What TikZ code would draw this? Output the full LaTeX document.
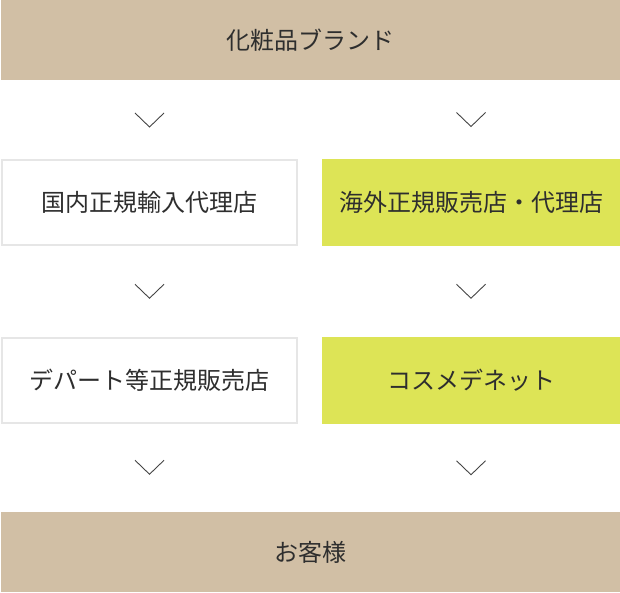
\documentclass[tikz,border=0pt]{standalone}
\usepackage{fontspec}
\usepackage{tikz}
\usetikzlibrary{calc}
\setmainfont{Noto Sans CJK JP}
\definecolor{tan}{HTML}{D1BFA5}
\definecolor{lime}{HTML}{DDE456}
\definecolor{frame}{HTML}{E6E6E6}
\definecolor{ink}{HTML}{2E2E2E}
\definecolor{chevcol}{HTML}{444444}
\tikzset{
  box/.style={inner sep=0pt, outer sep=0pt, text=ink, font=\fontsize{24}{28}\selectfont},
  wide/.style={box, fill=tan, minimum width=619pt, minimum height=80pt},
  plain/.style={box, draw=frame, line width=2pt, fill=white, minimum width=295pt, minimum height=85pt},
  green/.style={box, fill=lime, minimum width=298pt, minimum height=87pt},
  chev/.pic={\draw[chevcol, line width=0.9pt] (-14.5,7) -- (0,-7) -- (14.5,7);}
}
\begin{document}
\begin{tikzpicture}[x=1pt, y=1pt]
        \useasboundingbox (0,0) rectangle (620,592);

            \node[wide] (brand) at (310.5,552) {化粧品ブランド};
            \node[plain] (kokunai) at (149.5,389.5) {国内正規輸入代理店};
            \node[green] (kaigai) at (471,389.5) {海外正規販売店・代理店};
            \node[plain] (depart) at (149.5,212) {デパート等正規販売店};
            \node[green] (cosme) at (471,212) {コスメデネット};
            \node[wide] (customer) at (310.5,40) {お客様};

            \pic at ($(brand.south -| kokunai)!0.5!(kokunai.north)$) {chev};
            \pic at ($(brand.south -| kaigai)!0.5!(kaigai.north)$) {chev};
            \pic at ($(kokunai.south)!0.5!(depart.north)$) {chev};
            \pic at ($(kaigai.south)!0.5!(cosme.north)$) {chev};
            \pic at ($(depart.south)!0.5!(customer.north -| depart)$) {chev};
            \pic at ($(cosme.south)!0.5!(customer.north -| cosme)$) {chev};

        \end{tikzpicture}
\end{document}
